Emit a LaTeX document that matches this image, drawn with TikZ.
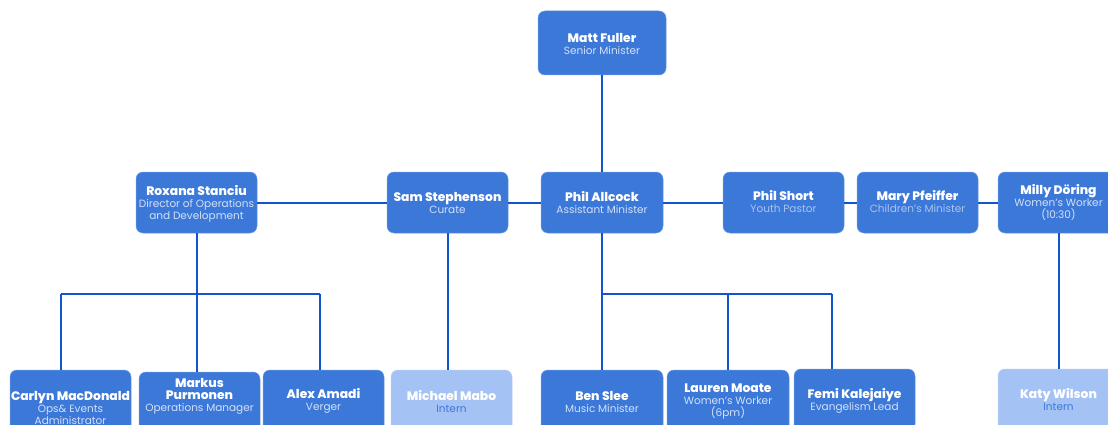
\documentclass[tikz,border=0pt]{standalone}
\usepackage{fontspec}
\setmainfont{Poppins}[BoldFont={Poppins ExtraBold}]
\definecolor{boxblue}{HTML}{3C78D8}
\definecolor{lightbox}{HTML}{A4C2F4}
\definecolor{linecol}{HTML}{1155CC}
\definecolor{subpale}{HTML}{D3E1F8}
\definecolor{submuted}{HTML}{A9C4F2}
\definecolor{subblue}{HTML}{3C78D8}
\newcommand\nm[1]{{\fontsize{12.3}{14}\selectfont\bfseries #1}}
\newcommand\sbt[1]{{\fontsize{10.5}{14}\selectfont #1}}
\begin{document}
\begin{tikzpicture}[x=1pt,y=-1pt,
  box/.style={rectangle, rounded corners=7pt, fill=boxblue, draw=boxblue!75!white, line width=0.5pt, inner sep=0pt, outer sep=0pt, anchor=north west},
  lbox/.style={box, fill=lightbox, draw=lightbox!80!white},
  txt/.style={align=center, inner sep=0pt, text=white},
  conn/.style={draw=linecol, line width=2pt}]
\useasboundingbox (0,0) rectangle (1108,425);
\clip (0,0) rectangle (1108,425);
\fill[white] (0,0) rectangle (1108,425);

% top
\node[box, minimum width=128pt, minimum height=64pt] (matt) at (538,11) {};
\node[txt] (matt-t) at (602,43.5) {\nm{Matt Fuller}\\\sbt{\color{subpale}Senior Minister}};

% middle row
\node[box, minimum width=121pt, minimum height=61pt] (rox) at (136,172) {};
\node[txt] (rox-t) at (196.5,203.5) {\nm{Roxana Stanciu}\\\sbt{\color{subpale}Director of Operations}\\\sbt{\color{subpale}and Development}};
\node[box, minimum width=121pt, minimum height=61pt] (sam) at (387,172) {};
\node[txt] (sam-t) at (447.5,203) {\nm{Sam Stephenson}\\\sbt{\color{subpale}Curate}};
\node[box, minimum width=122pt, minimum height=61pt] (phil) at (541,172) {};
\node[txt] (phil-t) at (602,203) {\nm{Phil Allcock}\\\sbt{\color{subpale}Assistant Minister}};
\node[box, minimum width=121pt, minimum height=61pt] (short) at (723,172) {};
\node[txt] (short-t) at (783.5,202) {\nm{Phil Short}\\\sbt{\color{submuted}Youth Pastor}};
\node[box, minimum width=121pt, minimum height=61pt] (mary) at (857,172) {};
\node[txt] (mary-t) at (917.5,202) {\nm{Mary Pfeiffer}\\\sbt{\color{submuted}Children’s Minister}};
\node[box, minimum width=121pt, minimum height=61pt] (milly) at (998,172) {};
\node[txt] (milly-t) at (1058.5,202.5) {\nm{Milly Döring}\\\sbt{\color{subpale}Women’s Worker}\\\sbt{\color{subpale}(10:30)}};

% bottom row
\node[box, minimum width=121pt, minimum height=74pt] (carlyn) at (10,370) {};
\node[txt] (carlyn-t) at (70.5,408) {\nm{Carlyn MacDonald}\\\sbt{\color{subpale}Ops\& Events}\\\sbt{\color{subpale}Administrator}};
\node[box, minimum width=121pt, minimum height=70pt] (markus) at (139,372) {};
\node[txt] (markus-t) at (199.5,396) {\nm{Markus}\\\nm{Purmonen}\\\sbt{\color{subpale}Operations Manager}};
\node[box, minimum width=121pt, minimum height=62pt] (alex) at (263,370) {};
\node[txt] (alex-t) at (323.5,401) {\nm{Alex Amadi}\\\sbt{\color{subpale}Verger}};
\node[lbox, minimum width=121pt, minimum height=62pt] (michael) at (391,370) {};
\node[txt] (michael-t) at (451.5,401.5) {\nm{Michael Mabo}\\\sbt{\color{subblue}Intern}};
\node[box, minimum width=122pt, minimum height=62pt] (ben) at (541,370) {};
\node[txt] (ben-t) at (602,402) {\nm{Ben Slee}\\\sbt{\color{subpale}Music Minister}};
\node[box, minimum width=122pt, minimum height=62pt] (lauren) at (667,370) {};
\node[txt] (lauren-t) at (728,402) {\nm{Lauren Moate}\\\sbt{\color{subpale}Women’s Worker}\\\sbt{\color{subpale}(6pm)}};
\node[box, minimum width=121pt, minimum height=62pt] (femi) at (794,369) {};
\node[txt] (femi-t) at (854.5,401) {\nm{Femi Kalejaiye}\\\sbt{\color{subpale}Evangelism Lead}};
\node[lbox, minimum width=121pt, minimum height=62pt] (katy) at (998,369) {};
\node[txt] (katy-t) at (1058.5,400) {\nm{Katy Wilson}\\\sbt{\color{subblue}Intern}};

% bus coordinates
\coordinate (bL) at (61,294);
\coordinate (bM) at (197,294);
\coordinate (bR) at (320,294);
\coordinate (pL) at (602,294);
\coordinate (pM) at (728,294);
\coordinate (pR) at (832,294);

% connectors
\draw[conn] (matt.south) -- (phil.north);
\draw[conn] (rox.east) -- (sam.west);
\draw[conn] (sam.east) -- (phil.west);
\draw[conn] (phil.east) -- (short.west);
\draw[conn] (short.east) -- (mary.west);
\draw[conn] (mary.east) -- (milly.west);
\draw[conn] (rox.south) -- (rox.south |- bM);
\draw[conn] (bL) -- (bR);
\draw[conn] (bL) -- (bL |- carlyn.north);
\draw[conn] (rox.south |- bM) -- (rox.south |- markus.north);
\draw[conn] (bR) -- (bR |- alex.north);
\draw[conn] (sam.south) -- (sam.south |- michael.north);
\draw[conn] (phil.south) -- (pL);
\draw[conn] (pL) -- (pR);
\draw[conn] (pL) -- (pL |- ben.north);
\draw[conn] (pM) -- (pM |- lauren.north);
\draw[conn] (pR) -- (pR |- femi.north);
\draw[conn] (milly.south) -- (milly.south |- katy.north);
\end{tikzpicture}
\end{document}
